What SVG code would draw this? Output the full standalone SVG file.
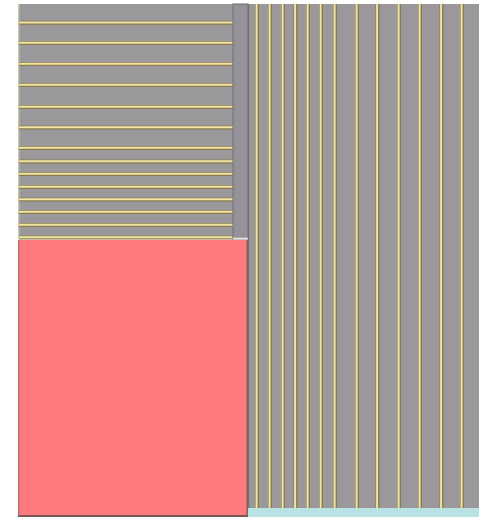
<svg xmlns="http://www.w3.org/2000/svg" width="479" height="519" viewBox="0 0 479 519">
<style>
.g{fill:#9a989b;}
.ol{stroke:#8a7b4e;stroke-width:4;fill:none;}
.yl{stroke:#efe4a6;stroke-width:2;fill:none;}
</style>
<defs>
<g id="hl"><line class="ol" x1="0" y1="0" x2="214" y2="0"/><line class="yl" x1="0" y1="-0.3" x2="214" y2="-0.3"/></g>
<g id="vl"><line class="ol" x1="0" y1="0" x2="0" y2="504"/><line class="yl" x1="-0.4" y1="0" x2="-0.4" y2="504"/></g>
</defs>
<rect width="479" height="519" fill="#ffffff"/>
<g id="left-block">
<rect class="g" x="18" y="4" width="215" height="235"/>
<rect x="18" y="4" width="1.5" height="235" fill="#c8c4b0"/>
<use href="#hl" x="19" y="22.7"/>
<use href="#hl" x="19" y="43"/>
<use href="#hl" x="19" y="64"/>
<use href="#hl" x="19" y="85"/>
<use href="#hl" x="19" y="107"/>
<use href="#hl" x="19" y="127.5"/>
<use href="#hl" x="19" y="148"/>
<use href="#hl" x="19" y="161.5"/>
<use href="#hl" x="19" y="174"/>
<use href="#hl" x="19" y="187"/>
<use href="#hl" x="19" y="199.5"/>
<use href="#hl" x="19" y="212"/>
<use href="#hl" x="19" y="225"/>
<use href="#hl" x="19" y="237.5"/>
</g>
<g id="strip">
<rect x="233" y="4" width="15" height="235" fill="#959399" stroke="#6f6e70" stroke-width="1"/>
<line x1="233" y1="238.5" x2="248" y2="238.5" stroke="#e8e6e0" stroke-width="1.5"/>
</g>
<g id="red-block">
<rect x="18" y="240" width="230" height="276" fill="#fe7a7c"/>
<line x1="18.7" y1="240" x2="18.7" y2="516" stroke="#b86a6a" stroke-width="1.4"/>
<line x1="247.3" y1="240" x2="247.3" y2="516" stroke="#8a5a5a" stroke-width="1.4"/>
<line x1="18" y1="516" x2="248" y2="516" stroke="#7a5658" stroke-width="2"/>
</g>
<g id="right-block">
<rect class="g" x="248" y="4" width="231" height="504"/>
<line x1="248.5" y1="4" x2="248.5" y2="508" stroke="#6f6e70" stroke-width="1.2"/>
<use href="#vl" x="257" y="4"/>
<use href="#vl" x="270" y="4"/>
<use href="#vl" x="283" y="4"/>
<use href="#vl" x="295.5" y="4"/>
<use href="#vl" x="308" y="4"/>
<use href="#vl" x="321" y="4"/>
<use href="#vl" x="335" y="4"/>
<use href="#vl" x="357" y="4"/>
<use href="#vl" x="377.5" y="4"/>
<use href="#vl" x="399" y="4"/>
<use href="#vl" x="420" y="4"/>
<use href="#vl" x="441.5" y="4"/>
<use href="#vl" x="462" y="4"/>
<rect x="248" y="508" width="231" height="9" fill="#b8e2e4"/>
</g>
</svg>
